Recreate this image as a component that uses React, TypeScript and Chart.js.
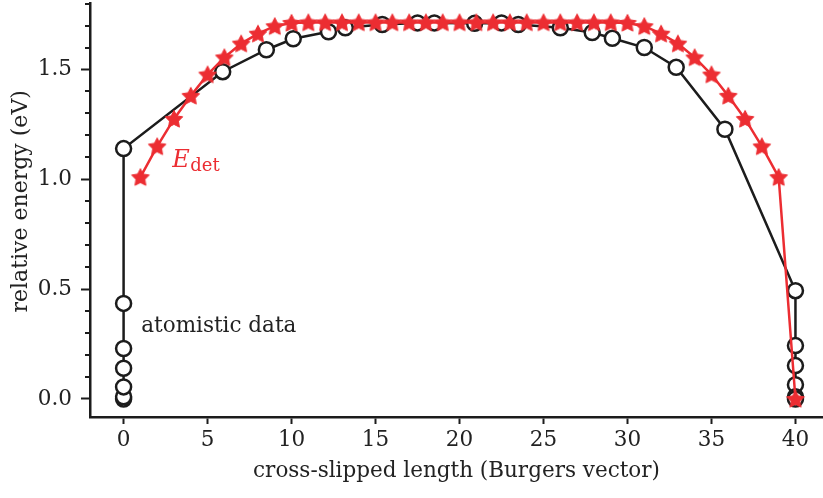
import React, { useEffect, useRef } from 'react';
import { Chart, registerables } from 'chart.js';

Chart.register(...registerables);

// atomistic data (black circles)
const atomisticX = [0, 0, 0, 0, 0, 0, 0, 5.9, 8.5, 10.1, 12.2, 13.2, 15.4, 17.5, 18.5, 20.9, 22.5, 23.5, 26.0, 27.9, 29.1, 31.0, 32.9, 35.8, 40, 40, 40, 40, 40, 40];
const atomisticY = [0.0, 0.01, 0.055, 0.14, 0.23, 0.435, 1.14, 1.49, 1.59, 1.64, 1.672, 1.69, 1.705, 1.712, 1.712, 1.71, 1.712, 1.705, 1.69, 1.668, 1.642, 1.6, 1.51, 1.228, 0.493, 0.243, 0.152, 0.065, 0.01, 0.0];

// E_det (red stars)
const detX = [1, 2, 3, 4, 5, 6, 7, 8, 9, 10, 11, 12, 13, 14, 15, 16, 17, 18, 19, 20, 21, 22, 23, 24, 25, 26, 27, 28, 29, 30, 31, 32, 33, 34, 35, 36, 37, 38, 39, 40];
const detY = [1.01, 1.15, 1.275, 1.38, 1.477, 1.555, 1.618, 1.663, 1.697, 1.712, 1.714, 1.714, 1.714, 1.714, 1.714, 1.714, 1.714, 1.714, 1.714, 1.714, 1.714, 1.714, 1.714, 1.714, 1.714, 1.714, 1.714, 1.714, 1.714, 1.712, 1.697, 1.663, 1.618, 1.555, 1.477, 1.38, 1.275, 1.15, 1.01, 0.0];

const xTicks = [0, 5, 10, 15, 20, 25, 30, 35, 40];
const yMajorTicks = [0, 0.5, 1.0, 1.5];
const yMinorTicks = [0.1, 0.2, 0.3, 0.4, 0.6, 0.7, 0.8, 0.9, 1.1, 1.2, 1.3, 1.4, 1.6, 1.7, 1.8];

const RED = '#ec2d32';
const BLACK = '#1c1c1c';
const TEXT = '#222222';
const FONT = 'DejaVu Serif';

function makeStar(): HTMLCanvasElement {
  const size = 22;
  const c = document.createElement('canvas');
  c.width = size;
  c.height = size;
  const ctx = c.getContext('2d')!;
  const cx = size / 2, cy = size / 2 + 0.7;
  const R = 9.2, r = 4.7;
  ctx.beginPath();
  for (let i = 0; i < 10; i++) {
    const rad = i % 2 === 0 ? R : r;
    const a = -Math.PI / 2 + (i * Math.PI) / 5;
    const px = cx + rad * Math.cos(a);
    const py = cy + rad * Math.sin(a);
    if (i === 0) ctx.moveTo(px, py); else ctx.lineTo(px, py);
  }
  ctx.closePath();
  ctx.fillStyle = RED;
  ctx.fill();
  ctx.lineJoin = 'round';
  ctx.lineWidth = 1;
  ctx.strokeStyle = RED;
  ctx.stroke();
  return c;
}

export default function App() {
  const ref = useRef<HTMLCanvasElement>(null);
  useEffect(() => {
    document.body.style.margin = '0';
    const star = makeStar();
    const annotations = {
      id: 'annotations',
      afterDraw(chart: any) {
        const ctx = chart.ctx;
        const xs = chart.scales.x;
        const ys = chart.scales.y;
        const area = chart.chartArea;
        ctx.save();
        // minor ticks on y axis
        ctx.strokeStyle = BLACK;
        ctx.lineWidth = 2;
        for (const v of yMinorTicks) {
          const py = Math.round(ys.getPixelForValue(v));
          ctx.beginPath();
          ctx.moveTo(area.left - 5, py);
          ctx.lineTo(area.left, py);
          ctx.stroke();
        }
        // y axis title
        ctx.save();
        ctx.fillStyle = TEXT;
        ctx.font = `22px "${FONT}"`;
        ctx.textAlign = 'center';
        ctx.textBaseline = 'middle';
        ctx.translate(21, ys.getPixelForValue(0.9));
        ctx.rotate(-Math.PI / 2);
        ctx.fillText('relative energy (eV)', 0, 0);
        ctx.restore();
        // text labels
        ctx.fillStyle = TEXT;
        ctx.font = `21.5px "${FONT}"`;
        ctx.textBaseline = 'middle';
        ctx.textAlign = 'left';
        ctx.fillText('atomistic data', xs.getPixelForValue(1.05), ys.getPixelForValue(0.33));
        ctx.fillStyle = RED;
        ctx.textBaseline = 'alphabetic';
        const ex = xs.getPixelForValue(2.9);
        const ey = ys.getPixelForValue(1.056);
        ctx.font = `italic 24px "${FONT}"`;
        ctx.fillText('E', ex, ey);
        const ew = ctx.measureText('E').width;
        ctx.font = `18px "${FONT}"`;
        ctx.fillText('det', ex + ew + 0.5, ey + 4);
        ctx.restore();
      },
    };
    const chart = new Chart(ref.current!, {
      type: 'line',
      data: {
        datasets: [
          {
            label: 'E_det',
            data: detX.map((x, i) => ({ x, y: detY[i] })),
            borderColor: RED,
            backgroundColor: RED,
            borderWidth: 2.5,
            pointStyle: star as any,
            pointRadius: 9,
            tension: 0,
            clip: false as any,
          },
          {
            label: 'atomistic data',
            data: atomisticX.map((x, i) => ({ x, y: atomisticY[i] })),
            borderColor: BLACK,
            backgroundColor: '#ffffff',
            borderWidth: 2.5,
            pointStyle: 'circle',
            pointRadius: 7.5,
            pointBorderWidth: 2.5,
            pointBackgroundColor: '#ffffff',
            pointBorderColor: BLACK,
            tension: 0,
            clip: false as any,
          },
        ],
      },
      options: {
        responsive: false,
        animation: false,
        events: [],
        layout: { autoPadding: false, padding: { top: 3.6, right: 0, bottom: 0, left: 0 } },
        plugins: {
          legend: { display: false },
          tooltip: { enabled: false },
        },
        scales: {
          x: {
            type: 'linear',
            min: -2.0,
            max: 41.64,
            afterBuildTicks: (s: any) => {
              s.ticks = xTicks.map((v) => ({ value: v }));
            },
            afterFit: (s: any) => {
              s.height = 81;
              s.paddingLeft = 0;
              s.paddingRight = 0;
            },
            grid: {
              drawOnChartArea: false,
              drawTicks: true,
              tickLength: 7,
              tickWidth: 2,
              tickColor: BLACK,
            },
            border: { display: true, color: BLACK, width: 2.5 },
            ticks: {
              color: TEXT,
              font: { family: FONT, size: 21.5 },
              padding: 4,
              maxRotation: 0,
              callback: (v: any) => String(v),
            },
            title: {
              display: true,
              text: 'cross-slipped length (Burgers vector)',
              color: TEXT,
              font: { family: FONT, size: 21.5 },
              padding: { top: 0, bottom: 14 },
            },
          },
          y: {
            type: 'linear',
            min: -0.082,
            max: 1.8,
            afterBuildTicks: (s: any) => {
              s.ticks = yMajorTicks.map((v) => ({ value: v }));
            },
            afterFit: (s: any) => {
              s.width = 90;
              s.paddingTop = 0;
              s.paddingBottom = 0;
            },
            grid: {
              drawOnChartArea: false,
              drawTicks: true,
              tickLength: 9,
              tickWidth: 2,
              tickColor: BLACK,
            },
            border: { display: true, color: BLACK, width: 2.5 },
            ticks: {
              color: TEXT,
              font: { family: FONT, size: 21.5 },
              padding: 9,
              callback: (v: any) => Number(v).toFixed(1),
            },
            title: { display: false },
          },
        },
      },
      plugins: [annotations],
    } as any);
    return () => chart.destroy();
  }, []);
  return (
    <div style={{ width: 823, height: 498 }}>
      <canvas ref={ref} width={823} height={498} style={{ display: 'block' }} />
    </div>
  );
}
